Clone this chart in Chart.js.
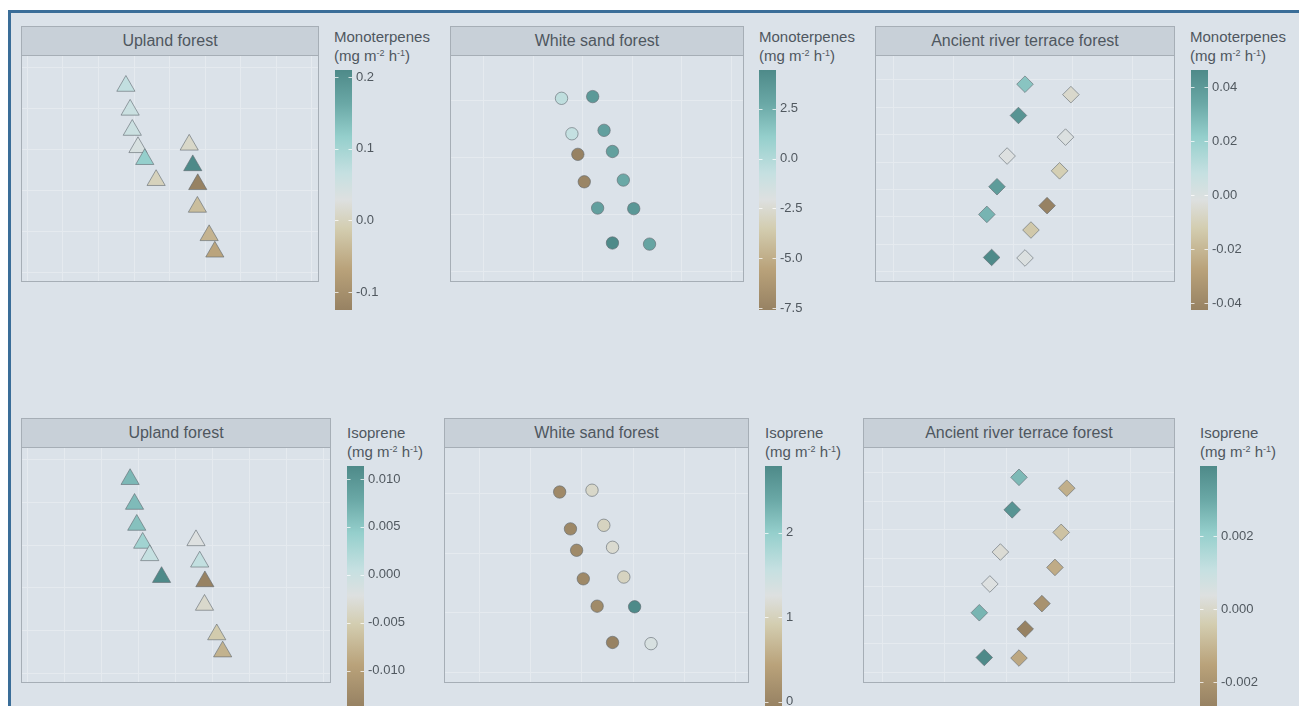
<!DOCTYPE html>
<html>
<head>
<meta charset="utf-8">
<script src="https://cdn.jsdelivr.net/npm/chart.js@4.4.1/dist/chart.umd.min.js"></script>
<style>
  html, body { margin: 0; padding: 0; width: 1299px; height: 706px; overflow: hidden; background: #fff; }
  body { position: relative; font-family: 'Liberation Sans', Arial, sans-serif; color: #4f575f; }
  #frame { position: absolute; left: 8px; top: 10px; width: 1300px; height: 700px;
           border-top: 3px solid #3a6d98; border-left: 3px solid #3a6d98; background: #dbe2e9; }
  .panel { position: absolute; box-sizing: border-box; border: 1px solid #a6aeb6; }
  .strip { height: 28px; line-height: 28px; background: #c8d0d8; border-bottom: 1px solid #a6aeb6;
           text-align: center; font-size: 16px; color: #4f575f; white-space: nowrap; }
  .panel canvas { display: block; }
  .cbtitle { position: absolute; font-size: 15px; line-height: 19px; color: #4f575f; white-space: nowrap; }
  .cbtitle sup { font-size: 9px; vertical-align: 5px; line-height: 0; }
  .cb { position: absolute; }
</style>
</head>
<body>
<div id="frame"></div>
<script>
// tree positions inside each plot (grid units), same trees in both rows
const forestNames = ['Upland forest', 'White sand forest', 'Ancient river terrace forest'];

const uplandX = [2.77, 2.89, 2.95, 3.11, 3.30, 3.62, 4.55, 4.65, 4.79, 4.78, 5.11, 5.27];
const uplandY = [4.54, 3.96, 3.47, 3.05, 2.76, 2.25, 3.11, 2.61, 2.15, 1.60, 0.91, 0.51];

const whiteSandX = [1.57, 2.20, 1.78, 2.43, 1.90, 2.60, 2.03, 2.82, 2.30, 3.03, 2.60, 3.35];
const whiteSandY = [3.03, 3.06, 2.41, 2.47, 2.05, 2.10, 1.57, 1.60, 1.11, 1.10, 0.50, 0.48];

const terraceX = [2.20, 2.97, 2.09, 2.88, 1.90, 2.78, 1.73, 2.57, 1.56, 2.30, 1.64, 2.20];
const terraceY = [6.84, 6.46, 5.70, 4.91, 4.22, 3.68, 3.10, 2.41, 2.09, 1.52, 0.52, 0.50];

// emission rates (mg m-2 h-1)
const monoUpland    = [0.069, 0.059, 0.056, 0.039, 0.116, -0.001, 0.009, 0.21, -0.125, -0.031, -0.045, -0.065];
const monoWhiteSand = [-0.5, 3.6, -0.7, 3.25, -7.6, 3.2, -7.4, 2.75, 3.25, 3.7, 4.45, 3.0];
const monoTerrace   = [0.025, -0.0062, 0.042, -0.0008, -0.0017, -0.0115, 0.039, -0.0426, 0.030, -0.014, 0.0463, -0.0008];

const isoUpland    = [0.0064, 0.0061, 0.0056, 0.0034, 0.0006, 0.01135, -0.0022, 0.0008, -0.0137, -0.0034, -0.0054, -0.0079];
const isoWhiteSand = [0.06, 1.09, 0.04, 1.03, 0.07, 1.14, 0.05, 1.03, 0.08, 2.79, -0.05, 1.34];
const isoTerrace   = [0.0026, -0.0012, 0.0036, -0.0007, 0.00017, -0.0013, 0.00037, -0.0021, 0.0027, -0.00266, 0.00392, -0.0014];

// colourbar tick labels
const monoTicksUpland    = [-0.1, 0.0, 0.1, 0.2];
const monoTicksWhiteSand = [-7.5, -5.0, -2.5, 0.0, 2.5];
const monoTicksTerrace   = [-0.04, -0.02, 0.00, 0.02, 0.04];
const isoTicksUpland     = [-0.010, -0.005, 0.000, 0.005, 0.010];
const isoTicksWhiteSand  = [0, 1, 2];
const isoTicksTerrace    = [-0.002, 0.000, 0.002];

// plot extents in grid units
const uplandRange    = { x: [-0.15, 8.17], y: [-0.2, 5.27] };
const whiteSandRange = { x: [-0.665, 5.24], y: [-0.165, 3.77] };
const terraceRange   = { x: [-0.3, 4.7], y: [-0.34, 7.87] };

// brown -> grey -> teal
const rampStops = [
    [0.00, '#978263'],
    [0.17, '#b9a27a'],
    [0.34, '#d3cdb0'],
    [0.46, '#dde0e0'],
    [0.57, '#c5e0e1'],
    [0.72, '#95cfcc'],
    [0.86, '#6aa8a6'],
    [1.00, '#4e8a89'],
];

Chart.defaults.font.family = "'Liberation Sans', Arial, sans-serif";
Chart.defaults.color = '#4f575f';

function hexToRgb(h) {
    return [1, 3, 5].map(i => parseInt(h.slice(i, i + 2), 16));
}

function rampColor(t) {
    t = Math.max(0, Math.min(1, t));
    for (let i = 1; i < rampStops.length; i++) {
        const [t1, c1] = rampStops[i];
        if (t <= t1) {
            const [t0, c0] = rampStops[i - 1];
            const f = (t - t0) / (t1 - t0);
            const a = hexToRgb(c0), b = hexToRgb(c1);
            const rgb = a.map((v, k) => Math.round(v + (b[k] - v) * f));
            return `rgb(${rgb.join(',')})`;
        }
    }
    return rampStops[rampStops.length - 1][1];
}

function wholeSteps(range) {
    const out = [];
    for (let v = Math.ceil(range[0]); v <= range[1]; v++) out.push(v);
    return out;
}

function gridScale(range, vertical) {
    return {
        type: 'linear',
        min: range[0],
        max: range[1],
        ticks: { display: false },
        afterBuildTicks: s => { s.ticks = wholeSteps(range).map(value => ({ value })); },
        grid: { color: '#e5eaef', lineWidth: 1, drawTicks: false },
        border: { display: false },
        afterFit: s => { if (vertical) s.width = 0; else s.height = 0; },
    };
}

const colorbarFill = {
    id: 'colorbarFill',
    beforeDraw(chart) {
        const { ctx, chartArea: a } = chart;
        const g = ctx.createLinearGradient(0, a.bottom, 0, a.top);
        rampStops.forEach(([t, c]) => g.addColorStop(t, c));
        ctx.save();
        ctx.fillStyle = g;
        ctx.fillRect(a.left, a.top, a.right - a.left, a.bottom - a.top);
        const s = chart.scales.y;
        ctx.strokeStyle = 'rgba(255,255,255,0.75)';
        ctx.lineWidth = 1;
        s.ticks.forEach(t => {
            const y = Math.round(s.getPixelForValue(t.value)) + 0.5;
            ctx.beginPath();
            ctx.moveTo(a.left, y); ctx.lineTo(a.left + 3.5, y);
            ctx.moveTo(a.right - 3.5, y); ctx.lineTo(a.right, y);
            ctx.stroke();
        });
        ctx.restore();
    }
};

const BAR_W = 17, BAR_H = 240, BAR_PAD = 16, BAR_CANVAS_W = 80;

function addPanel(p) {
    const [left, top, w, h] = p.box;
    const box = document.createElement('div');
    box.className = 'panel';
    Object.assign(box.style, { left: left + 'px', top: top + 'px', width: w + 'px', height: h + 'px' });
    const strip = document.createElement('div');
    strip.className = 'strip';
    strip.textContent = p.name;
    box.appendChild(strip);
    const cv = document.createElement('canvas');
    cv.width = w - 2;
    cv.height = h - 2 - 29;
    box.appendChild(cv);
    document.body.appendChild(box);

    const lo = Math.min(...p.values), hi = Math.max(...p.values);

    new Chart(cv, {
        type: 'scatter',
        data: {
            datasets: [{
                data: p.xs.map((x, i) => ({ x, y: p.ys[i] })),
                pointStyle: p.shape,
                pointRadius: p.radius,
                pointHoverRadius: p.radius,
                pointBackgroundColor: p.values.map(v => rampColor((v - lo) / (hi - lo))),
                pointBorderColor: 'rgba(95,104,110,0.6)',
                pointBorderWidth: 1,
            }]
        },
        options: {
            responsive: false,
            animation: false,
            events: [],
            layout: { padding: 0, autoPadding: false },
            plugins: { legend: { display: false }, tooltip: { enabled: false } },
            scales: {
                x: gridScale(p.range.x, false),
                y: gridScale(p.range.y, true),
            }
        }
    });

    // colourbar legend
    const [bx, by] = p.bar;
    const title = document.createElement('div');
    title.className = 'cbtitle';
    title.style.left = p.titlePos[0] + 'px';
    title.style.top = p.titlePos[1] + 'px';
    title.innerHTML = p.legend + '<br>(mg m<sup>-2</sup> h<sup>-1</sup>)';
    document.body.appendChild(title);

    const cb = document.createElement('canvas');
    cb.className = 'cb';
    cb.width = BAR_CANVAS_W;
    cb.height = BAR_H + 2 * BAR_PAD;
    cb.style.left = bx + 'px';
    cb.style.top = (by - BAR_PAD) + 'px';
    document.body.appendChild(cb);

    new Chart(cb, {
        type: 'scatter',
        data: { datasets: [] },
        options: {
            responsive: false,
            animation: false,
            events: [],
            layout: { padding: { top: BAR_PAD, bottom: BAR_PAD, left: 0, right: 0 }, autoPadding: false },
            plugins: { legend: { display: false }, tooltip: { enabled: false } },
            scales: {
                x: { display: false },
                y: {
                    position: 'right',
                    min: lo,
                    max: hi,
                    afterBuildTicks: s => { s.ticks = p.ticks.map(value => ({ value })); },
                    ticks: { padding: 4, color: '#50585f', font: { size: 13 }, callback: v => v.toFixed(p.decimals) },
                    grid: { display: false, drawTicks: false },
                    border: { display: false },
                    afterFit: s => { s.width = BAR_CANVAS_W - BAR_W; },
                }
            }
        },
        plugins: [colorbarFill]
    });
}

const panels = [
    { name: forestNames[0], xs: uplandX, ys: uplandY, values: monoUpland, range: uplandRange,
      shape: 'triangle', radius: 10.5, legend: 'Monoterpenes', ticks: monoTicksUpland, decimals: 1,
      box: [21, 26, 298, 256], bar: [335, 70], titlePos: [334, 27] },
    { name: forestNames[1], xs: whiteSandX, ys: whiteSandY, values: monoWhiteSand, range: whiteSandRange,
      shape: 'circle', radius: 6.2, legend: 'Monoterpenes', ticks: monoTicksWhiteSand, decimals: 1,
      box: [450, 26, 294, 256], bar: [759, 70], titlePos: [759, 27] },
    { name: forestNames[2], xs: terraceX, ys: terraceY, values: monoTerrace, range: terraceRange,
      shape: 'rectRot', radius: 8.3, legend: 'Monoterpenes', ticks: monoTicksTerrace, decimals: 2,
      box: [875, 26, 300, 256], bar: [1191, 70], titlePos: [1190, 27] },
    { name: forestNames[0], xs: uplandX, ys: uplandY, values: isoUpland, range: uplandRange,
      shape: 'triangle', radius: 10.5, legend: 'Isoprene', ticks: isoTicksUpland, decimals: 3,
      box: [21, 418, 310, 265], bar: [347, 466], titlePos: [347, 423] },
    { name: forestNames[1], xs: whiteSandX, ys: whiteSandY, values: isoWhiteSand, range: whiteSandRange,
      shape: 'circle', radius: 6.2, legend: 'Isoprene', ticks: isoTicksWhiteSand, decimals: 0,
      box: [444, 418, 305, 265], bar: [765, 466], titlePos: [765, 423] },
    { name: forestNames[2], xs: terraceX, ys: terraceY, values: isoTerrace, range: terraceRange,
      shape: 'rectRot', radius: 8.3, legend: 'Isoprene', ticks: isoTicksTerrace, decimals: 3,
      box: [863, 418, 312, 265], bar: [1200, 466], titlePos: [1200, 423] },
];

panels.forEach(addPanel);
</script>
</body>
</html>
